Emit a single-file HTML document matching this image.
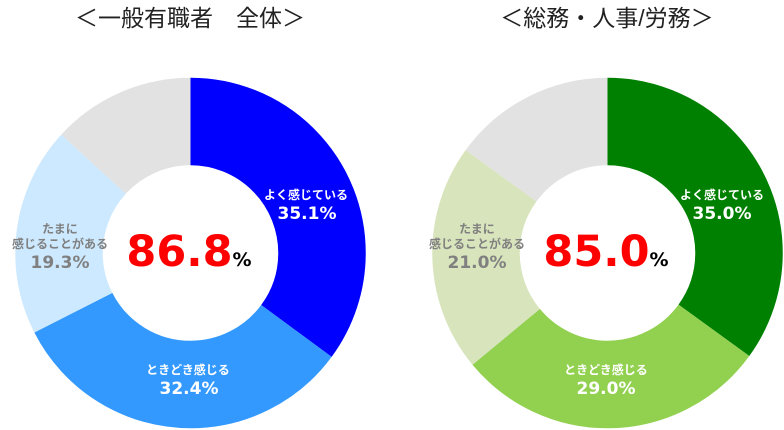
<!DOCTYPE html>
<html><head><meta charset="utf-8"><style>
body{margin:0;background:#fff;width:784px;height:430px;overflow:hidden}
svg{display:block}
text{font-family:"Liberation Sans","Noto Sans CJK JP",sans-serif;font-weight:bold;text-anchor:middle}
.n{font-family:"DejaVu Sans","Liberation Sans",sans-serif}
</style></head><body>
<svg width="784" height="430" viewBox="0 0 784 430">
<g fill="none" stroke-width="87.5">
<g transform="rotate(-90 190.5 253)">
<circle cx="190.5" cy="253" r="131.5" pathLength="100" stroke="#0000ff" stroke-dasharray="35.1 100" stroke-dashoffset="0"/>
<circle cx="190.5" cy="253" r="131.5" pathLength="100" stroke="#3399ff" stroke-dasharray="32.4 100" stroke-dashoffset="-35.1"/>
<circle cx="190.5" cy="253" r="131.5" pathLength="100" stroke="#cce9ff" stroke-dasharray="19.3 100" stroke-dashoffset="-67.5"/>
<circle cx="190.5" cy="253" r="131.5" pathLength="100" stroke="#e2e2e2" stroke-dasharray="13.2 100" stroke-dashoffset="-86.8"/>
</g>
<g transform="rotate(-90 607.5 253)">
<circle cx="607.5" cy="253" r="131.5" pathLength="100" stroke="#008000" stroke-dasharray="35 100" stroke-dashoffset="0"/>
<circle cx="607.5" cy="253" r="131.5" pathLength="100" stroke="#92d050" stroke-dasharray="29 100" stroke-dashoffset="-35"/>
<circle cx="607.5" cy="253" r="131.5" pathLength="100" stroke="#d8e4bc" stroke-dasharray="21 100" stroke-dashoffset="-64"/>
<circle cx="607.5" cy="253" r="131.5" pathLength="100" stroke="#e2e2e2" stroke-dasharray="15 100" stroke-dashoffset="-85"/>
</g>
</g>
<text x="190" y="26" font-size="23" fill="#222" style="font-weight:normal">＜一般有職者　全体＞</text>
<text x="607" y="26" font-size="23" fill="#222" style="font-weight:normal">＜総務・人事/労務＞</text>

<text x="306" y="199" font-size="12" fill="#fff">よく感じている</text>
<text class="n" x="307" y="219" font-size="17" fill="#fff">35.1%</text>
<text x="188" y="374" font-size="12" fill="#fff">ときどき感じる</text>
<text class="n" x="189" y="394" font-size="17" fill="#fff">32.4%</text>
<text x="60" y="233" font-size="12" fill="#808080">たまに</text>
<text x="60" y="248" font-size="12" fill="#808080">感じることがある</text>
<text class="n" x="60" y="268" font-size="17" fill="#808080">19.3%</text>
<text class="n" x="189" y="266" font-size="43" fill="#ff0000">86.8<tspan font-size="19" fill="#000">%</tspan></text>

<text x="722" y="199" font-size="12" fill="#fff">よく感じている</text>
<text class="n" x="722" y="219" font-size="17" fill="#fff">35.0%</text>
<text x="606" y="374" font-size="12" fill="#fff">ときどき感じる</text>
<text class="n" x="606" y="394" font-size="17" fill="#fff">29.0%</text>
<text x="477" y="233" font-size="12" fill="#808080">たまに</text>
<text x="477" y="248" font-size="12" fill="#808080">感じることがある</text>
<text class="n" x="477" y="268" font-size="17" fill="#808080">21.0%</text>
<text class="n" x="606" y="266" font-size="43" fill="#ff0000">85.0<tspan font-size="19" fill="#000">%</tspan></text>
</svg>
</body></html>
